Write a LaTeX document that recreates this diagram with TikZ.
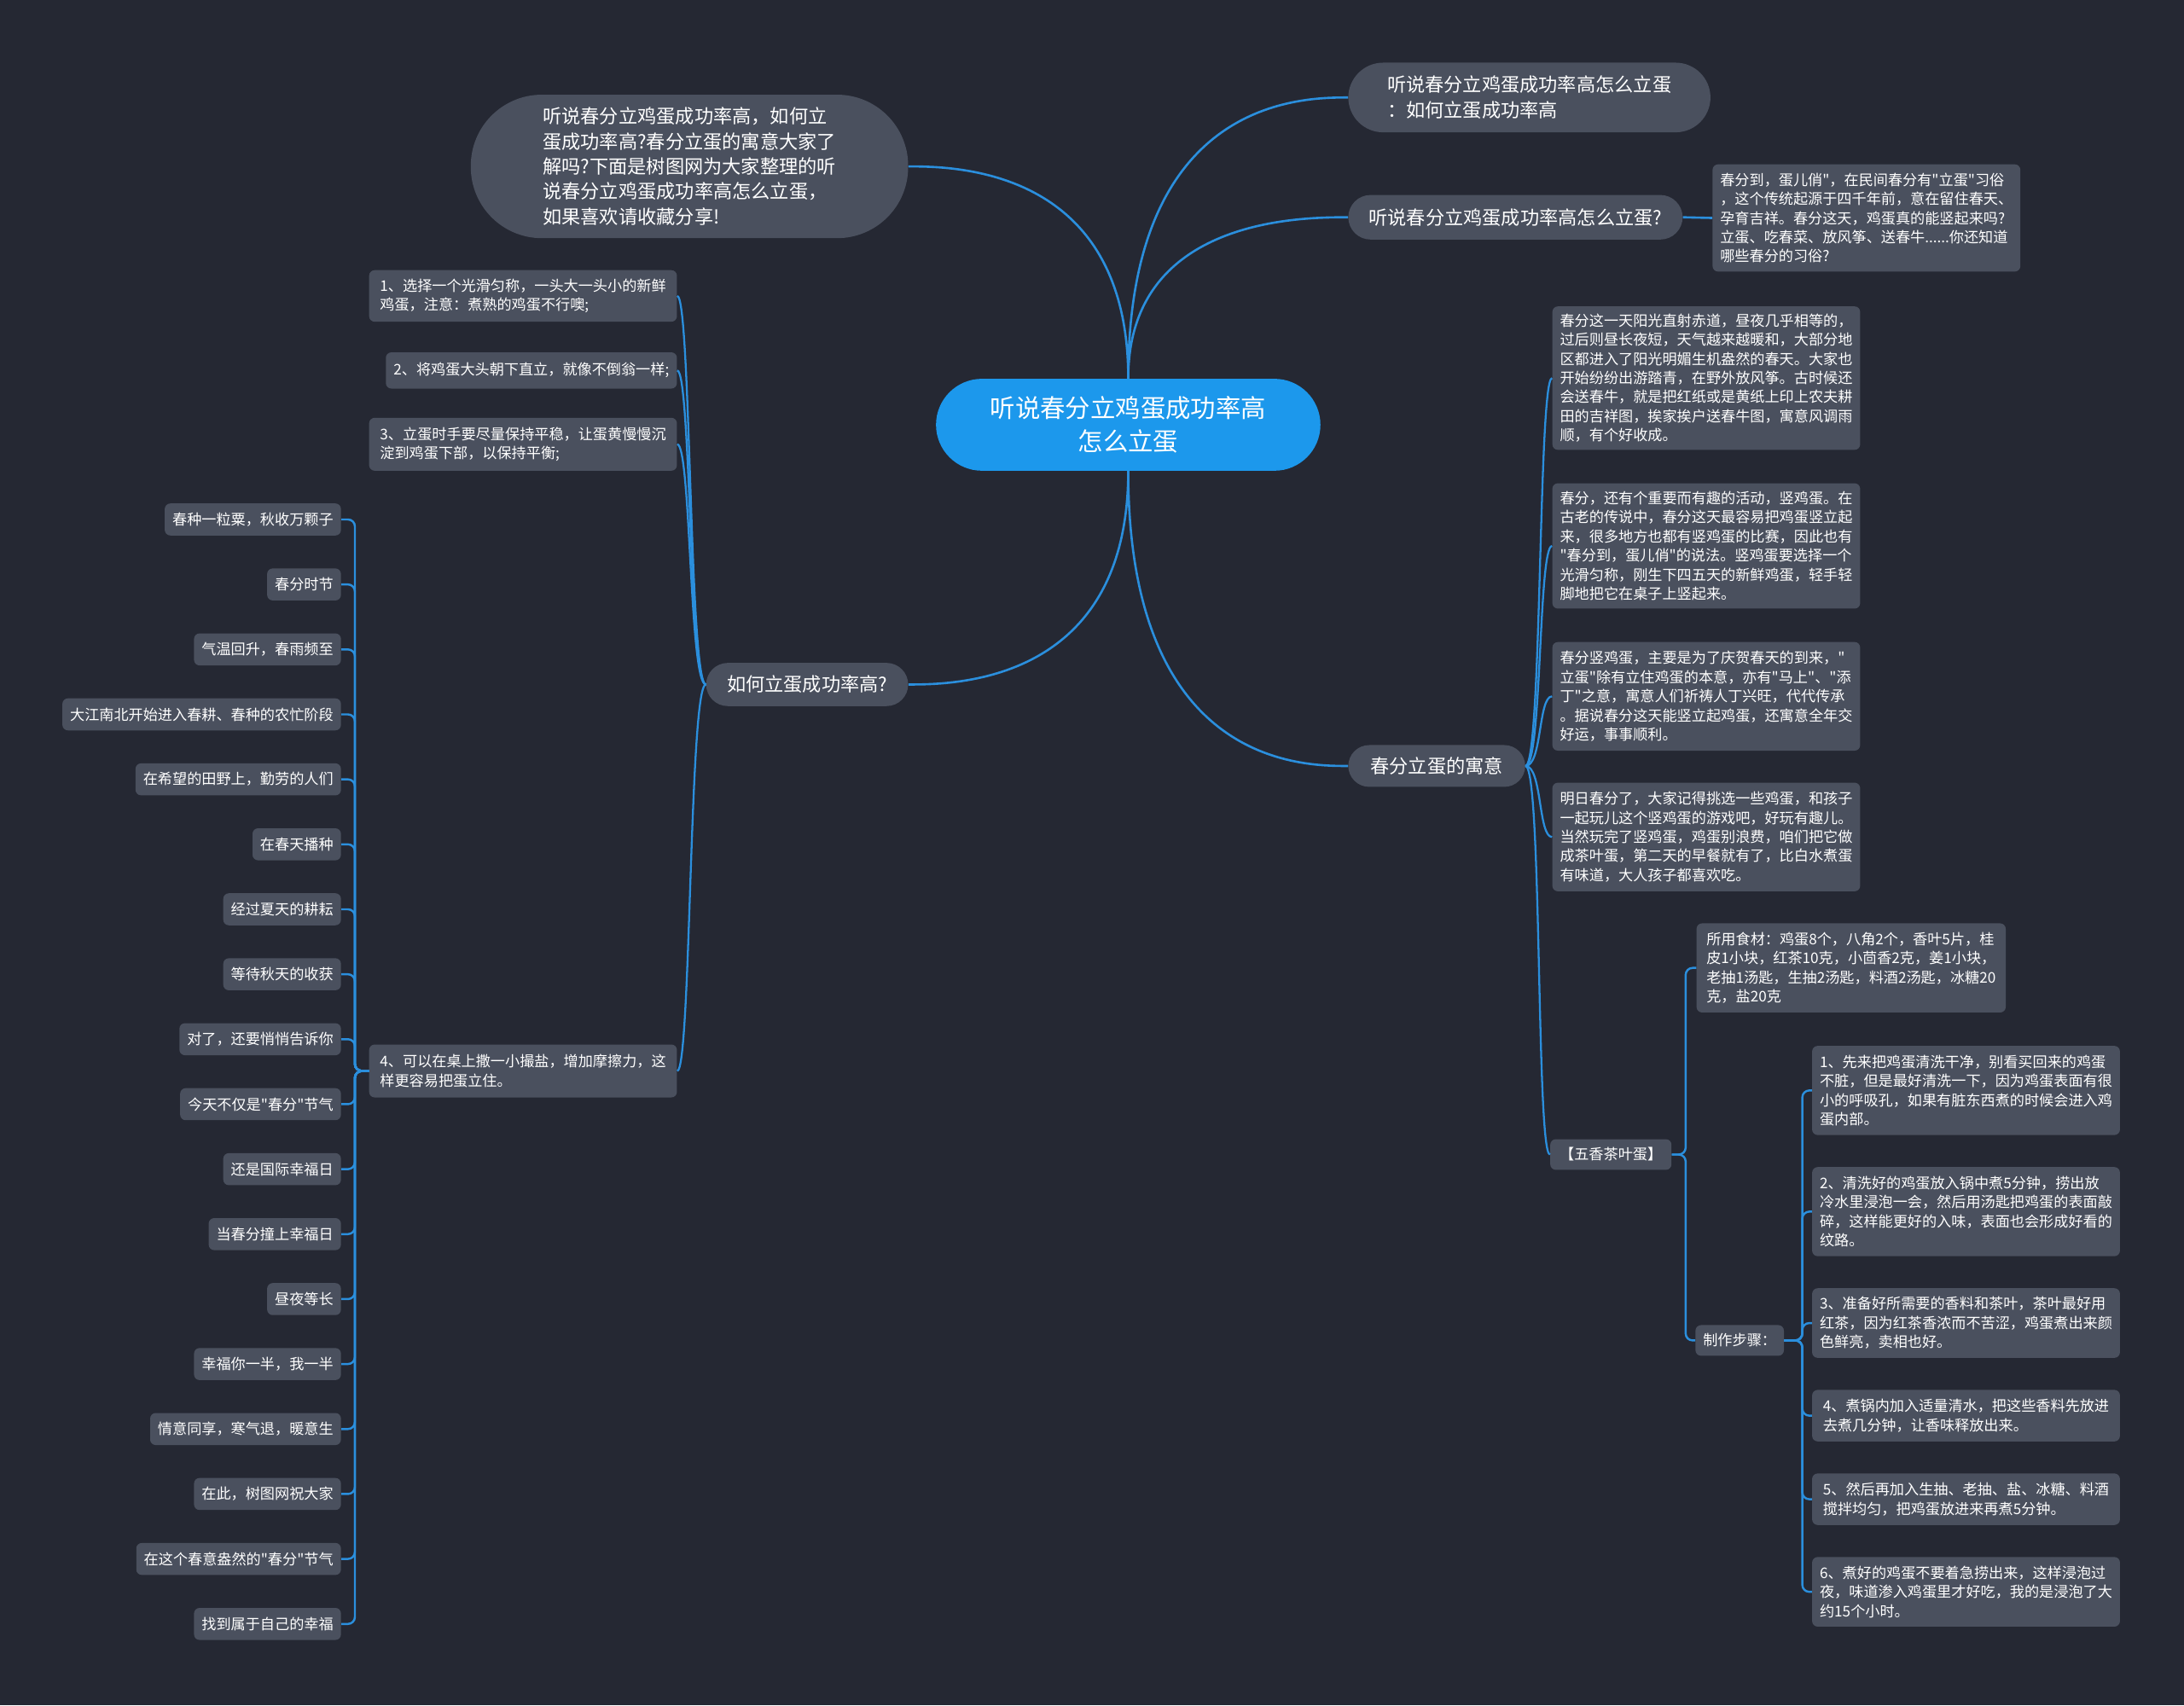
\documentclass[tikz,border=0pt]{standalone}
\usepackage{fontspec}
\setmainfont{Noto Sans CJK SC}[Ligatures=TeXOff]
\definecolor{bg}{HTML}{252833}
\definecolor{boxc}{HTML}{4A505E}
\definecolor{rootc}{HTML}{1C98EC}
\definecolor{linec}{HTML}{2B8FDD}
\newcommand\fbig{\fontsize{18}{24}\selectfont}
\newcommand\fmid{\fontsize{13.6}{18}\selectfont}
\newcommand\fsmall{\fontsize{10.5}{13.7}\selectfont}
\tikzset{
  pill/.style={fill=boxc, text=white, rounded corners=#1pt, inner sep=0pt, align=left, font=\fmid},
  smallbox/.style={fill=boxc, text=white, rounded corners=4pt, inner xsep=5.5pt, inner ysep=0pt, align=left, font=\fsmall},
  link/.style={draw=linec, line width=1.6pt},
  elbow/.style={draw=linec, line width=1.5pt, rounded corners=5pt},
}
\begin{document}
\begin{tikzpicture}[x=1pt,y=-1pt]
\fill[bg] (0,0) rectangle (1568,1224.4);
\useasboundingbox (0,0) rectangle (1568,1224.4);

% root and first level
\node[pill=33, fill=rootc, font=\fbig, align=center, minimum width=276pt, minimum height=66pt] (root) at (810,305) {听说春分立鸡蛋成功率高\\怎么立蛋};
\node[pill=51, minimum width=314pt, minimum height=103pt] (intro) at (495,119.5) {听说春分立鸡蛋成功率高，如何立\\蛋成功率高?春分立蛋的寓意大家了\\解吗?下面是树图网为大家整理的听\\说春分立鸡蛋成功率高怎么立蛋，\\如果喜欢请收藏分享!};
\node[pill=25, minimum width=260pt, minimum height=50pt] (tr1) at (1098,70) {听说春分立鸡蛋成功率高怎么立蛋\\：如何立蛋成功率高};
\node[pill=16, minimum width=240pt, minimum height=32pt] (tr2) at (1088,156) {听说春分立鸡蛋成功率高怎么立蛋?};
\node[pill=15, minimum width=127pt, minimum height=30pt] (yy) at (1031.5,550) {春分立蛋的寓意};
\node[pill=15.5, minimum width=145pt, minimum height=31pt] (how) at (579.5,491.5) {如何立蛋成功率高?};

% tr2 child
\node[smallbox, minimum width=220pt, minimum height=77pt] (tr2c) at (1340,156.5) {春分到，蛋儿俏"，在民间春分有"立蛋"习俗\\，这个传统起源于四千年前，意在留住春天、\\孕育吉祥。春分这天，鸡蛋真的能竖起来吗?\\立蛋、吃春菜、放风筝、送春牛......你还知道\\哪些春分的习俗?};

% yy children
\node[smallbox, minimum width=220pt, minimum height=103pt] (c1) at (1225,271.5) {春分这一天阳光直射赤道，昼夜几乎相等的，\\过后则昼长夜短，天气越来越暖和，大部分地\\区都进入了阳光明媚生机盎然的春天。大家也\\开始纷纷出游踏青，在野外放风筝。古时候还\\会送春牛，就是把红纸或是黄纸上印上农夫耕\\田的吉祥图，挨家挨户送春牛图，寓意风调雨\\顺，有个好收成。};
\node[smallbox, minimum width=220pt, minimum height=90pt] (c2) at (1225,392) {春分，还有个重要而有趣的活动，竖鸡蛋。在\\古老的传说中，春分这天最容易把鸡蛋竖立起\\来，很多地方也都有竖鸡蛋的比赛，因此也有\\"春分到，蛋儿俏"的说法。竖鸡蛋要选择一个\\光滑匀称，刚生下四五天的新鲜鸡蛋，轻手轻\\脚地把它在桌子上竖起来。};
\node[smallbox, minimum width=220pt, minimum height=78pt] (c3) at (1225,500) {春分竖鸡蛋，主要是为了庆贺春天的到来，"\\立蛋"除有立住鸡蛋的本意，亦有"马上"、"添\\丁"之意，寓意人们祈祷人丁兴旺，代代传承\\。据说春分这天能竖立起鸡蛋，还寓意全年交\\好运，事事顺利。};
\node[smallbox, minimum width=220pt, minimum height=78pt] (c4) at (1225,601) {明日春分了，大家记得挑选一些鸡蛋，和孩子\\一起玩儿这个竖鸡蛋的游戏吧，好玩有趣儿。\\当然玩完了竖鸡蛋，鸡蛋别浪费，咱们把它做\\成茶叶蛋，第二天的早餐就有了，比白水煮蛋\\有味道，大人孩子都喜欢吃。};
\node[smallbox, minimum width=87pt, minimum height=22pt] (wx) at (1156.5,829) {【五香茶叶蛋】};

% wx children
\node[smallbox, minimum width=222pt, minimum height=64pt] (sc) at (1329,695) {所用食材：鸡蛋8个，八角2个，香叶5片，桂\\皮1小块，红茶10克，小茴香2克，姜1小块，\\老抽1汤匙，生抽2汤匙，料酒2汤匙，冰糖20\\克，盐20克};
\node[smallbox, minimum width=62pt, minimum height=22pt] (zz) at (1249,962.5) {制作步骤：};

% steps
\node[smallbox, minimum width=221pt, minimum height=64pt] (s1) at (1411.5,783) {1、先来把鸡蛋清洗干净，别看买回来的鸡蛋\\不脏，但是最好清洗一下，因为鸡蛋表面有很\\小的呼吸孔，如果有脏东西煮的时候会进入鸡\\蛋内部。};
\node[smallbox, minimum width=221pt, minimum height=64pt] (s2) at (1411.5,870) {2、清洗好的鸡蛋放入锅中煮5分钟，捞出放\\冷水里浸泡一会，然后用汤匙把鸡蛋的表面敲\\碎，这样能更好的入味，表面也会形成好看的\\纹路。};
\node[smallbox, minimum width=221pt, minimum height=50pt] (s3) at (1411.5,950) {3、准备好所需要的香料和茶叶，茶叶最好用\\红茶，因为红茶香浓而不苦涩，鸡蛋煮出来颜\\色鲜亮，卖相也好。};
\node[smallbox, minimum width=221pt, minimum height=37pt] (s4) at (1411.5,1016.5) {4、煮锅内加入适量清水，把这些香料先放进\\去煮几分钟，让香味释放出来。};
\node[smallbox, minimum width=221pt, minimum height=37pt] (s5) at (1411.5,1076.5) {5、然后再加入生抽、老抽、盐、冰糖、料酒\\搅拌均匀，把鸡蛋放进来再煮5分钟。};
\node[smallbox, minimum width=221pt, minimum height=50pt] (s6) at (1411.5,1143) {6、煮好的鸡蛋不要着急捞出来，这样浸泡过\\夜，味道渗入鸡蛋里才好吃，我的是浸泡了大\\约15个小时。};

% left children
\node[smallbox, minimum width=221pt, minimum height=37pt] (L1) at (375.5,212.5) {1、选择一个光滑匀称，一头大一头小的新鲜\\鸡蛋，注意：煮熟的鸡蛋不行噢;};
\node[smallbox, minimum width=209pt, minimum height=26pt] (L2) at (381.5,266) {2、将鸡蛋大头朝下直立，就像不倒翁一样;};
\node[smallbox, minimum width=221pt, minimum height=38pt] (L3) at (375.5,319) {3、立蛋时手要尽量保持平稳，让蛋黄慢慢沉\\淀到鸡蛋下部，以保持平衡;};
\node[smallbox, minimum width=221pt, minimum height=38pt] (L4) at (375.5,769) {4、可以在桌上撒一小撮盐，增加摩擦力，这\\样更容易把蛋立住。};

% L4 children
\foreach \t [count=\i] in {春种一粒粟，秋收万颗子,春分时节,气温回升，春雨频至,大江南北开始进入春耕、春种的农忙阶段,在希望的田野上，勤劳的人们,在春天播种,经过夏天的耕耘,等待秋天的收获,对了，还要悄悄告诉你,今天不仅是"春分"节气,还是国际幸福日,当春分撞上幸福日,昼夜等长,幸福你一半，我一半,情意同享，寒气退，暖意生,在此，树图网祝大家,在这个春意盎然的"春分"节气,找到属于自己的幸福}{
  \node[smallbox, anchor=east, minimum height=23pt] (a\i) at (245,{373+46.65*(\i-1)}) {\t};
  \draw[elbow] (L4.west) -- ++(-10,0) |- (a\i.east);
}

% root connectors
\draw[link] (root.north) .. controls +(0,-152) and +(32,0) .. (intro.east);
\draw[link] (root.north) .. controls +(0,-202) and +(-32,0) .. (tr1.west);
\draw[link] (root.north) .. controls +(0,-116) and +(-32,0) .. (tr2.west);
\draw[link] (root.south) .. controls +(0,212) and +(-32,0) .. (yy.west);
\draw[link] (root.south) .. controls +(0,153) and +(32,0) .. (how.east);

\draw[link] (tr2.east) -- (tr2c.west);

% yy bracket
\foreach \n in {c1,c2,c3,c4,wx}{
  \draw[link, line width=1.4pt] (yy.east) .. controls +(12,0) and +(-10,0) .. (\n.west);
}
% how bracket
\foreach \n in {L1,L2,L3,L4}{
  \draw[link, line width=1.4pt] (how.west) .. controls +(-12,0) and +(10,0) .. (\n.east);
}
% wx elbows
\foreach \n in {sc,zz}{
  \draw[elbow] (wx.east) -- ++(10,0) |- (\n.west);
}
% step elbows
\foreach \n in {s1,s2,s3,s4,s5,s6}{
  \draw[elbow] (zz.east) -- ++(13,0) |- (\n.west);
}
\end{tikzpicture}
\end{document}
